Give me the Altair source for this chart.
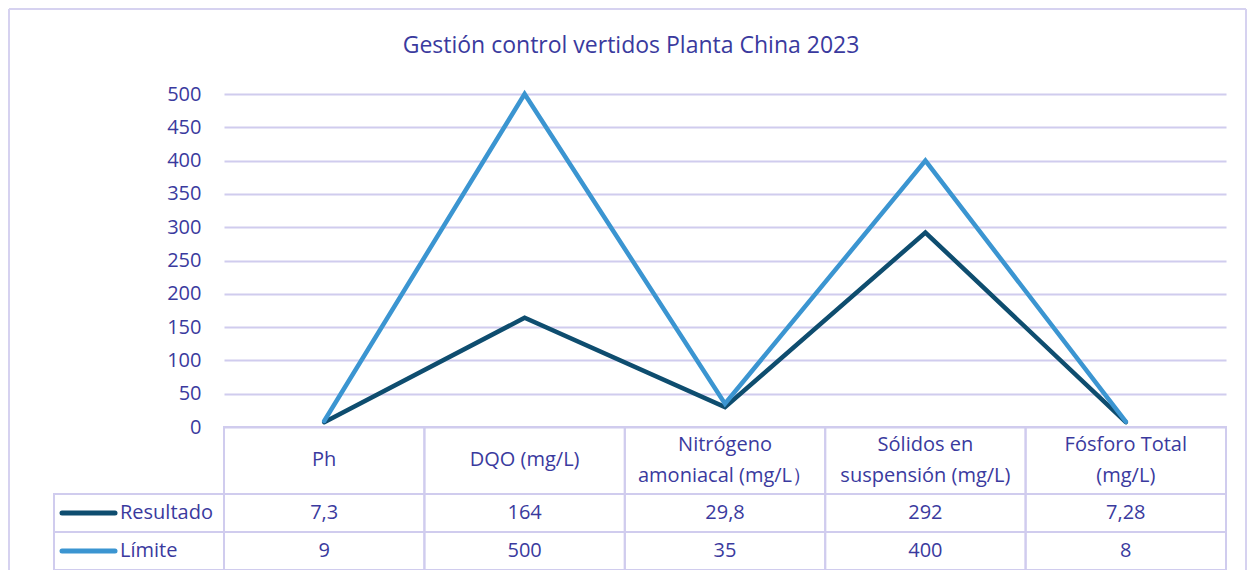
import altair as alt
import pandas as pd

titulo = "Gestión control vertidos Planta China 2023"
categorias = ["Ph", "DQO (mg/L)", "Nitrógeno\namoniacal (mg/L）",
              "Sólidos en\nsuspensión (mg/L)", "Fósforo Total\n(mg/L)"]
resultado = [7.3, 164, 29.8, 292, 7.28]
limite = [9, 500, 35, 400, 8]
series = ["Resultado", "Límite"]
y_ticks = [0, 50, 100, 150, 200, 250, 300, 350, 400, 450, 500]

TXT = "#3A3A9E"
GRID = "#D0CCEE"
COLS = ["#0E4D6F", "#3B95D1"]
FONT = "Open Sans"

rows = []
for s, vals in zip(series, [resultado, limite]):
    for i, (c, v) in enumerate(zip(categorias, vals)):
        rows.append({"categoria": c, "serie": s, "valor": v, "idx": i})
df = pd.DataFrame(rows)
df_cat = pd.DataFrame({"categoria": categorias})
df_ser = pd.DataFrame({"serie": series})
df_tit = pd.DataFrame({"titulo": [titulo]})

xs = alt.Scale(type="band", domain=categorias, paddingInner=0, paddingOuter=0)
cs = alt.Scale(domain=series, range=COLS)
ys_tab = alt.Scale(type="band", domain=series, range=[400, 476], paddingInner=0, paddingOuter=0)

def line_layer(serie, with_axis):
    axis = alt.Axis(values=y_ticks, grid=True, gridColor=GRID, gridWidth=2, domain=False,
                    ticks=False, tickSize=0, labelFontSize=20, labelColor=TXT, labelFont=FONT,
                    labelPadding=23, title=None) if with_axis else None
    return alt.Chart(df).transform_filter(alt.datum.serie == serie).mark_line(
        strokeWidth=4.5, strokeCap="round", strokeJoin="miter"
    ).encode(
        x=alt.X("categoria:N", scale=xs, axis=None, bandPosition=0.5),
        y=alt.Y("valor:Q", scale=alt.Scale(domain=[0, 500], nice=False), axis=axis),
        color=alt.Color("serie:N", scale=cs, legend=None),
        order=alt.Order("idx:Q"),
    )

l_res = line_layer("Resultado", True)
l_lim = line_layer("Límite", False)

# title
title_text = alt.Chart(df_tit).mark_text(
    fontSize=23, font=FONT, color=TXT, align="center", baseline="middle"
).encode(x=alt.value(407), y=alt.value(-48), text="titulo:N")

# header cells
head_cells = alt.Chart(df_cat).mark_rect(filled=False, stroke=GRID, strokeWidth=2).encode(
    x=alt.X("categoria:N", scale=xs, axis=None),
    y=alt.value(333), y2=alt.value(400),
)

def head_text_layer(nlines, ypos):
    return alt.Chart(df_cat).transform_calculate(
        n="length(split(datum.categoria, '\\n'))"
    ).transform_filter(alt.datum.n == nlines).mark_text(
        lineBreak="\n", lineHeight=31, fontSize=20, font=FONT, color=TXT,
        align="center", baseline="middle"
    ).encode(
        x=alt.X("categoria:N", scale=xs, axis=None, bandPosition=0.5),
        y=alt.value(ypos),
        text="categoria:N",
    )

head_text1 = head_text_layer(1, 366)
head_text2 = head_text_layer(2, 350.5)

# data cells
cells = alt.Chart(df).mark_rect(filled=False, stroke=GRID, strokeWidth=2).encode(
    x=alt.X("categoria:N", scale=xs, axis=None),
    y=alt.Y("serie:N", scale=ys_tab, axis=None),
)
cell_text = alt.Chart(df).transform_calculate(
    texto="replace(toString(datum.valor), '.', ',')"
).mark_text(fontSize=20, font=FONT, color=TXT, align="center", baseline="middle").encode(
    x=alt.X("categoria:N", scale=xs, axis=None, bandPosition=0.5),
    y=alt.Y("serie:N", scale=ys_tab, axis=None, bandPosition=0.5),
    text="texto:N",
)

# label column
lab_cells = alt.Chart(df_ser).mark_rect(filled=False, stroke=GRID, strokeWidth=2).encode(
    x=alt.value(-170), x2=alt.value(0),
    y=alt.Y("serie:N", scale=ys_tab, axis=None),
)
lab_lines = alt.Chart(df_ser).mark_rule(strokeWidth=5, strokeCap="round").encode(
    x=alt.value(-162), x2=alt.value(-109),
    y=alt.Y("serie:N", scale=ys_tab, axis=None, bandPosition=0.5),
    color=alt.Color("serie:N", scale=cs, legend=None),
)
lab_text = alt.Chart(df_ser).mark_text(
    fontSize=20, font=FONT, color=TXT, align="left", baseline="middle"
).encode(
    x=alt.value(-104),
    y=alt.Y("serie:N", scale=ys_tab, axis=None, bandPosition=0.5),
    text="serie:N",
)

# outer frame
FR = "#D6D2F0"
frame_l = alt.Chart(df_tit).mark_rule(color=FR, strokeWidth=2).encode(
    x=alt.value(-215), y=alt.value(-85), y2=alt.value(480))
frame_t = alt.Chart(df_tit).mark_rule(color=FR, strokeWidth=2).encode(
    x=alt.value(-215), x2=alt.value(1022), y=alt.value(-85))
frame_r = alt.Chart(df_tit).mark_rule(color=FR, strokeWidth=2).encode(
    x=alt.value(1022), y=alt.value(-85), y2=alt.value(480))

chart = alt.layer(
    frame_l, frame_t, frame_r, title_text,
    l_res, l_lim,
    head_cells, head_text1, head_text2, cells, cell_text, lab_cells, lab_lines, lab_text,
).resolve_scale(y="independent").properties(
    width=1002, height=333,
    autosize=alt.AutoSizeParams(type="none"),
    padding={"left": 216, "top": 86, "right": 21, "bottom": 143},
    background="white",
).configure_view(stroke=None)

chart.save("out.html", embed_options={"renderer": "svg", "actions": False})
